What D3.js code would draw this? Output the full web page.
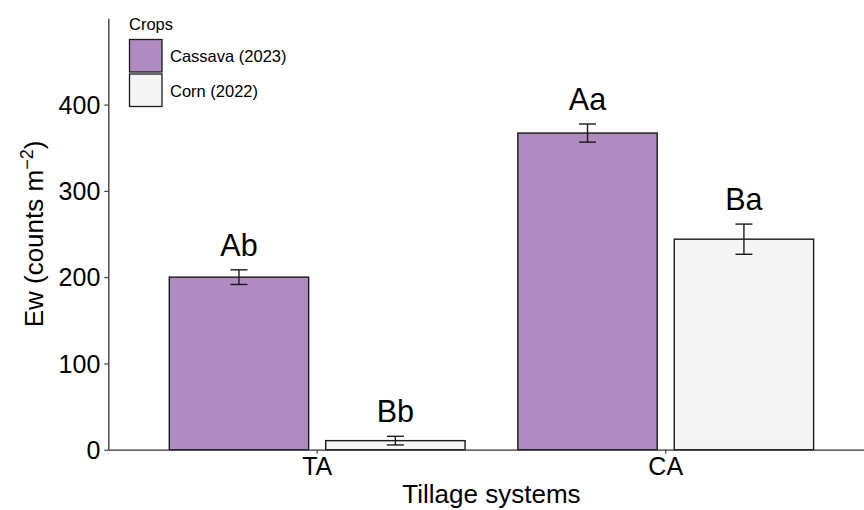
<!DOCTYPE html>
<html>
<head>
<meta charset="utf-8">
<script src="https://cdn.jsdelivr.net/npm/d3@7"></script>
<style>
  html, body { margin: 0; padding: 0; background: #fff; }
  svg { display: block; font-family: "Liberation Sans", Arial, sans-serif; }
</style>
</head>
<body>
<svg id="chart" width="864" height="510"></svg>
<script>
// Earthworm density by tillage system and crop
const tillage = ["TA", "CA"];
const crops = ["Cassava (2023)", "Corn (2022)"];
const cassavaMean = [200, 367];
const cassavaSE = [8.5, 10.5];
const cornMean = [10.5, 244];
const cornSE = [5, 17.5];
const cassavaLetters = ["Ab", "Aa"];
const cornLetters = ["Bb", "Ba"];
const yTicks = [0, 100, 200, 300, 400];
const cropColors = ["#b08bc1", "#f5f5f5"];

const rows = [];
tillage.forEach((t, i) => {
  rows.push({ tillage: t, crop: crops[0], mean: cassavaMean[i], se: cassavaSE[i], letter: cassavaLetters[i] });
  rows.push({ tillage: t, crop: crops[1], mean: cornMean[i], se: cornSE[i], letter: cornLetters[i] });
});

const svg = d3.select("#chart");
const panel = { left: 108.3, right: 874.6, top: 18.3, bottom: 449.7 };

const x = d3.scaleBand().domain(tillage)
  .range([panel.left, panel.right])
  .paddingInner(0.1515).paddingOuter(0.175);
const xSub = d3.scaleBand().domain(crops)
  .range([0, x.bandwidth()])
  .paddingInner(0.109).paddingOuter(0);
const y = d3.scaleLinear().domain([0, 500]).range([panel.bottom, panel.top]);
const color = d3.scaleOrdinal().domain(crops).range(cropColors);
const cx = d => x(d.tillage) + xSub(d.crop) + xSub.bandwidth() / 2;

// bars
const g = svg.append("g");
g.selectAll("rect.bar").data(rows).join("rect")
  .attr("class", "bar")
  .attr("x", d => x(d.tillage) + xSub(d.crop))
  .attr("width", xSub.bandwidth())
  .attr("y", d => y(d.mean))
  .attr("height", d => y(0) - y(d.mean))
  .attr("fill", d => color(d.crop))
  .attr("stroke", "#1a1a1a")
  .attr("stroke-width", 1.4);

// error bars
const cap = 8.5;
const eb = g.selectAll("g.err").data(rows).join("g").attr("class", "err")
  .attr("stroke", "#1a1a1a").attr("stroke-width", 1.4);
eb.append("line")
  .attr("x1", cx).attr("x2", cx)
  .attr("y1", d => y(d.mean + d.se)).attr("y2", d => y(d.mean - d.se));
eb.append("line")
  .attr("x1", d => cx(d) - cap).attr("x2", d => cx(d) + cap)
  .attr("y1", d => y(d.mean + d.se)).attr("y2", d => y(d.mean + d.se));
eb.append("line")
  .attr("x1", d => cx(d) - cap).attr("x2", d => cx(d) + cap)
  .attr("y1", d => y(d.mean - d.se)).attr("y2", d => y(d.mean - d.se));

// significance letters
g.selectAll("text.letter").data(rows).join("text")
  .attr("class", "letter")
  .attr("x", cx)
  .attr("y", d => y(d.mean + d.se) - 14)
  .attr("text-anchor", "middle")
  .attr("font-size", 30.5)
  .attr("fill", "#000")
  .text(d => d.letter);

// axes
const xAxis = svg.append("g")
  .attr("transform", `translate(0,${panel.bottom})`)
  .call(d3.axisBottom(x).tickSize(4).tickPadding(4).tickSizeOuter(0));
const yAxis = svg.append("g")
  .attr("transform", `translate(${panel.left},0)`)
  .call(d3.axisLeft(y).tickValues(yTicks).tickSize(4).tickPadding(4).tickSizeOuter(0));
[xAxis, yAxis].forEach(a => {
  a.select(".domain").attr("stroke", "#333").attr("stroke-width", 1.3);
  a.selectAll(".tick line").attr("stroke", "#333").attr("stroke-width", 1.1);
  a.selectAll(".tick text").attr("font-size", 25).attr("fill", "#000")
    .attr("font-family", "'Liberation Sans', Arial, sans-serif");
});
yAxis.selectAll(".tick text").attr("dy", "0.35em");
xAxis.selectAll(".tick text").attr("dy", "0.7em");

// axis titles
svg.append("text")
  .attr("x", (panel.left + panel.right) / 2)
  .attr("y", 503)
  .attr("text-anchor", "middle")
  .attr("font-size", 26)
  .text("Tillage systems");

const yt = svg.append("text")
  .attr("transform", `translate(43,${(panel.top + panel.bottom) / 2}) rotate(-90)`)
  .attr("text-anchor", "middle")
  .attr("font-size", 26);
yt.append("tspan").text("Ew (counts m");
yt.append("tspan").attr("font-size", 18).attr("dy", -10).text("\u22122");
yt.append("tspan").attr("dy", 10).text(")");

// legend
const lg = svg.append("g");
lg.append("text").attr("x", 129).attr("y", 30).attr("font-size", 16.5).text("Crops");
const keys = lg.selectAll("g.key").data(crops).join("g").attr("class", "key")
  .attr("transform", (d, i) => `translate(129.5,${39.5 + i * 34.5})`);
keys.append("rect").attr("width", 32.5).attr("height", 32.5)
  .attr("fill", d => color(d)).attr("stroke", "#1a1a1a").attr("stroke-width", 1.3);
keys.append("text").attr("x", 40.5).attr("y", 22.5).attr("font-size", 16.5).text(d => d);
</script>
</body>
</html>
